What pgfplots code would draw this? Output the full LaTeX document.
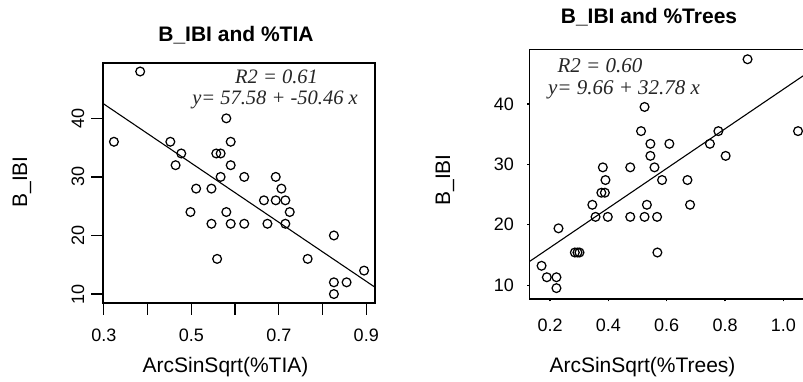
\documentclass[border=0pt]{standalone}
\usepackage{fontspec}
\setmainfont{Liberation Sans}
\newfontfamily\tms{Liberation Serif}
\usepackage{pgfplots}
\pgfplotsset{compat=1.18}

\pgfplotstableread{
x y
0.323 36
0.383 48
0.452 36
0.477 34
0.464 32
0.580 40
0.590 36
0.557 34
0.567 34
0.590 32
0.567 30
0.621 30
0.511 28
0.546 28
0.498 24
0.580 24
0.546 22
0.590 22
0.621 22
0.559 16
0.693 30
0.706 28
0.666 26
0.693 26
0.715 26
0.725 24
0.674 22
0.715 22
0.766 16
0.826 20
0.826 12
0.826 10
0.855 12
0.895 14
}\tia

\pgfplotstableread{
x y
0.877 47.4
0.524 39.5
0.512 35.5
0.777 35.5
1.050 35.5
0.544 33.4
0.609 33.4
0.748 33.4
0.544 31.4
0.802 31.4
0.381 29.5
0.475 29.5
0.558 29.5
0.390 27.4
0.584 27.4
0.671 27.4
0.376 25.3
0.388 25.3
0.345 23.3
0.532 23.3
0.680 23.3
0.356 21.3
0.398 21.3
0.475 21.3
0.524 21.3
0.567 21.3
0.229 19.4
0.285 15.4
0.294 15.4
0.301 15.4
0.568 15.4
0.171 13.2
0.189 11.3
0.222 11.3
0.222 9.5
}\trees

\begin{document}
\begin{tikzpicture}[x=1pt,y=1pt]
\pgfplotsset{
  rstyle/.style={
    scale only axis,
    anchor=south west,
    axis line style={line width=1.3pt},
    tick style={black, line width=1.2pt},
    xtick pos=bottom, ytick pos=left,
    tick align=outside,
    ticklabel style={font=\fontsize{18}{18}\selectfont},
    clip=true,
  },
  pts/.style={only marks, mark=o, mark size=4.4pt, mark options={line width=1.25pt, black}},
}
% ---------- left panel ----------
\begin{axis}[rstyle,
  at={(103pt,79pt)}, width=272pt, height=240pt,
  xmin=0.298, xmax=0.920, ymin=8.47, ymax=49.45,
  xtick={0.3,0.4,0.5,0.6,0.7,0.8,0.9},
  xticklabels={0.3,,0.5,,0.7,,0.9},
  ytick={10,20,30,40},
  yticklabels={\rotatebox{90}{10},\rotatebox{90}{20},\rotatebox{90}{30},\rotatebox{90}{40}},
  major tick length=12pt,
  xticklabel style={anchor=center, yshift=-20pt},
  yticklabel style={anchor=center, xshift=-13pt},
]
\addplot[pts] table {\tia};
\addplot[black, line width=1.1pt] coordinates {(0.298,42.54) (0.920,11.16)};
\end{axis}
% ---------- right panel ----------
\begin{axis}[rstyle,
  at={(529.6pt,83pt)}, width=283pt, height=249.7pt,
  xmin=0.13, xmax=1.10, ymin=7.7, ymax=49.05,
  xtick={0.2,0.4,0.6,0.8,1.0},
  xticklabels={0.2,0.4,0.6,0.8,1.0},
  ytick={10,20,30,40}, yticklabels={10,20,30,40},
  major tick length=2.5pt,
  xticklabel style={anchor=center, yshift=-24pt},
  yticklabel style={anchor=east, xshift=-9.6pt},
]
\addplot[pts] table {\trees};
\addplot[black, line width=1.1pt] coordinates {(0.13,13.92) (1.10,45.72)};
\end{axis}
% ---------- texts ----------
\node[font=\fontsize{21}{21}\selectfont\bfseries] at (236,347) {B\_IBI and \%TIA};
\node[font=\fontsize{21}{21}\selectfont] at (225.5,15) {ArcSinSqrt(\%TIA)};
\node[font=\fontsize{21}{21}\selectfont, rotate=90] at (22,200) {B\_IBI};
\node[inner sep=0pt, font=\fontsize{20.5}{20.5}\selectfont\tms\itshape, text=black!85] at (276.5,305.5) {R2 = 0.61};
\node[inner sep=0pt, font=\fontsize{20.5}{20.5}\selectfont\tms\itshape, text=black!85] at (275,282.5) {y= 57.58 + -50.46 x};

\node[font=\fontsize{21}{21}\selectfont\bfseries] at (649,365.3) {B\_IBI and \%Trees};
\node[font=\fontsize{21}{21}\selectfont] at (642.5,15) {ArcSinSqrt(\%Trees)};
\node[font=\fontsize{21}{21}\selectfont, rotate=90] at (445,202) {B\_IBI};
\node[inner sep=0pt, font=\fontsize{21}{21}\selectfont\tms\itshape, text=black!85] at (600,316) {R2 = 0.60};
\node[inner sep=0pt, font=\fontsize{21}{21}\selectfont\tms\itshape, text=black!85] at (624,292) {y= 9.66 + 32.78 x};

\pgfresetboundingbox
\useasboundingbox (0,0) rectangle (803,382);
\end{tikzpicture}
\end{document}
